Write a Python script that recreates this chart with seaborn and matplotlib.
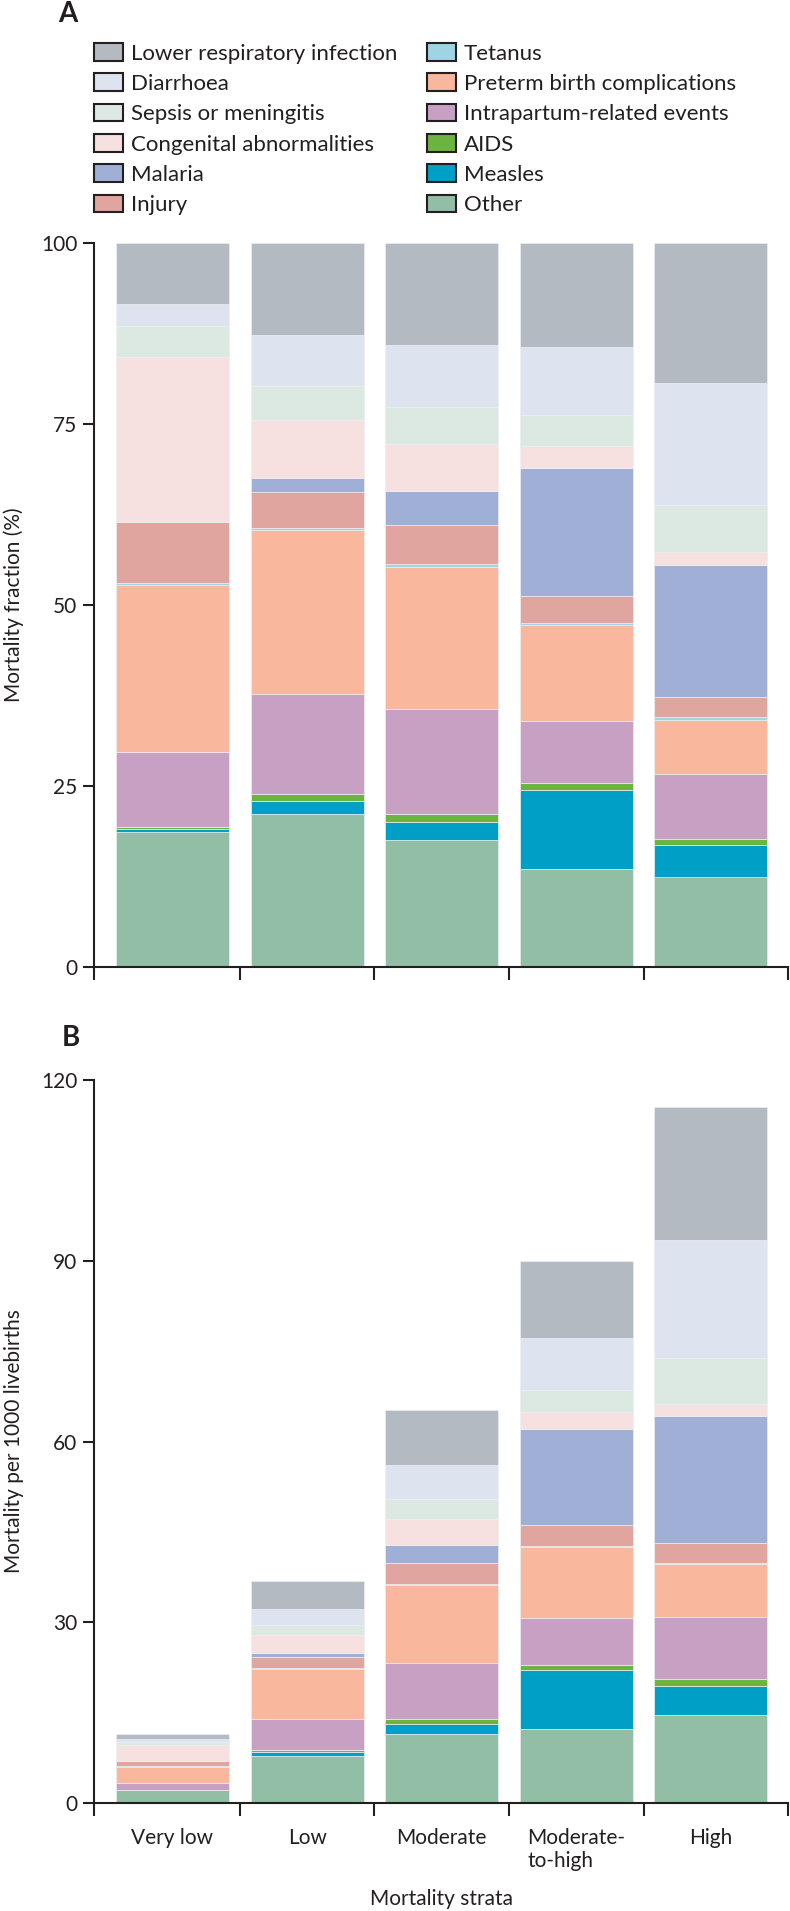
import numpy as np
import pandas as pd
import matplotlib
matplotlib.use("Agg")
import matplotlib.pyplot as plt
import seaborn as sns
from matplotlib.patches import Patch

# ---------------- data ----------------
strata = ["Very low", "Low", "Moderate", "Moderate-\nto-high", "High"]

causes = ["Lower respiratory infection", "Diarrhoea", "Sepsis or meningitis",
          "Congenital abnormalities", "Malaria", "Injury", "Tetanus",
          "Preterm birth complications", "Intrapartum-related events",
          "AIDS", "Measles", "Other"]

colors = ["#b3bac1", "#dee3f0", "#dce9e2", "#f6e1e0", "#a0afd6", "#e1a59f",
          "#9fd4e5", "#f9b79d", "#c7a0c3", "#6db33f", "#00a0c6", "#93bea6"]

# Panel A: mortality fraction (%) per stratum
frac_lri         = [8.4, 12.7, 14.1, 14.4, 19.3]
frac_diarrhoea   = [3.0, 7.1, 8.5, 9.3, 16.9]
frac_sepsis      = [4.3, 4.6, 5.1, 4.3, 6.5]
frac_congenital  = [22.8, 8.0, 6.6, 3.1, 1.8]
frac_malaria     = [0.0, 2.0, 4.6, 17.6, 18.2]
frac_injury      = [8.5, 4.9, 5.5, 3.8, 2.8]
frac_tetanus     = [0.2, 0.3, 0.3, 0.3, 0.4]
frac_preterm     = [23.1, 22.7, 19.6, 13.2, 7.5]
frac_intrapartum = [10.3, 13.8, 14.5, 8.6, 8.9]
frac_aids        = [0.4, 1.0, 1.2, 1.0, 0.9]
frac_measles     = [0.4, 1.8, 2.5, 10.8, 4.3]
frac_other       = [18.6, 21.1, 17.5, 13.6, 12.5]

# Panel B: mortality per 1000 livebirths per stratum
rate_lri         = [0.8, 4.6, 9.1, 12.8, 22.1]
rate_diarrhoea   = [0.5, 2.7, 5.7, 8.5, 19.5]
rate_sepsis      = [0.5, 1.6, 3.2, 3.7, 7.6]
rate_congenital  = [2.7, 3.0, 4.3, 2.9, 2.1]
rate_malaria     = [0.0, 0.6, 3.0, 15.8, 21.0]
rate_injury      = [0.9, 1.9, 3.5, 3.5, 3.3]
rate_tetanus     = [0.05, 0.1, 0.2, 0.2, 0.3]
rate_preterm     = [2.65, 8.3, 12.9, 11.8, 8.7]
rate_intrapartum = [1.2, 5.2, 9.4, 7.8, 10.3]
rate_aids        = [0.05, 0.3, 0.8, 0.9, 1.2]
rate_measles     = [0.05, 0.7, 1.6, 9.7, 4.8]
rate_other       = [2.1, 7.8, 11.5, 12.3, 14.6]

frac_series = [frac_lri, frac_diarrhoea, frac_sepsis, frac_congenital, frac_malaria,
               frac_injury, frac_tetanus, frac_preterm, frac_intrapartum, frac_aids,
               frac_measles, frac_other]
rate_series = [rate_lri, rate_diarrhoea, rate_sepsis, rate_congenital, rate_malaria,
               rate_injury, rate_tetanus, rate_preterm, rate_intrapartum, rate_aids,
               rate_measles, rate_other]


def long_df(series):
    rows = []
    for cause, vals in zip(causes, series):
        for i, v in enumerate(vals):
            rows.append({"x": i, "cause": cause, "value": v})
    return pd.DataFrame(rows)


# ---------------- style ----------------
sns.set_style("ticks")
plt.rcParams["font.family"] = ["Lato", "DejaVu Sans"]
INK = "#231f20"
plt.rcParams.update({
    "axes.edgecolor": INK, "axes.linewidth": 1.5,
    "xtick.color": INK, "ytick.color": INK,
    "text.color": INK, "axes.labelcolor": INK,
})

W, H = 790, 1911
fig = plt.figure(figsize=(W / 100, H / 100), dpi=100)

def axes_px(left, right, top, bottom):
    return fig.add_axes([left / W, 1 - bottom / H, (right - left) / W, (bottom - top) / H])

axA = axes_px(94, 788, 243, 967)
axB = axes_px(94, 788, 1080, 1803)

x_lo, x_hi = -0.583, 4.573

for ax, series, ymax, yticks, ylabel in [
        (axA, frac_series, 100, [0, 25, 50, 75, 100], "Mortality fraction (%)"),
        (axB, rate_series, 120, [0, 30, 60, 90, 120], "Mortality per 1000 livebirths")]:
    df = long_df(series)
    sns.histplot(data=df, x="x", weights="value", hue="cause", hue_order=causes,
                 palette=colors, multiple="stack", discrete=True, shrink=0.84,
                 alpha=1, linewidth=0.5, edgecolor="#eceef2", legend=False, ax=ax)
    ax.set_xlim(x_lo, x_hi)
    ax.set_ylim(0, ymax)
    ax.set_yticks(yticks)
    ax.set_xticks(range(len(strata)))
    ax.set_xticks([x_lo, 0.5, 1.5, 2.5, 3.5, x_hi], minor=True)
    ax.tick_params(axis="y", which="major", length=8, width=1.5, pad=4, labelsize=15)
    ax.tick_params(axis="x", which="major", length=0, pad=18, labelsize=15)
    ax.tick_params(axis="x", which="minor", length=9, width=1.5)
    ax.set_ylabel(ylabel, fontsize=15)
    ax.yaxis.set_label_coords(-0.101, 0.5)
    ax.set_xlabel("")
    sns.despine(ax=ax)

axA.tick_params(axis="x", which="major", labelbottom=False)
axB.set_xticklabels(strata)
for lab in axB.get_xticklabels():
    lab.set_multialignment("left")
    lab.set_verticalalignment("top")

fig.text(441 / W, 1 - 1899 / H, "Mortality strata", ha="center", va="center", fontsize=15)
fig.text(58 / W, 1 - 14 / H, "A", ha="left", va="center", fontsize=20, fontweight="bold")
fig.text(62 / W, 1 - 1038 / H, "B", ha="left", va="center", fontsize=20, fontweight="bold")

handles = [Patch(facecolor=c, edgecolor=INK, linewidth=1.5) for c in colors]
fig.legend(handles, causes, ncol=2, loc="upper left",
           bbox_to_anchor=(94 / W, 1 - 43 / H), frameon=False, fontsize=16,
           handlelength=1.3, handleheight=0.85, handletextpad=0.35,
           labelspacing=0.44, columnspacing=1.35, borderpad=0, borderaxespad=0)

fig.savefig("out.png", dpi=100)
